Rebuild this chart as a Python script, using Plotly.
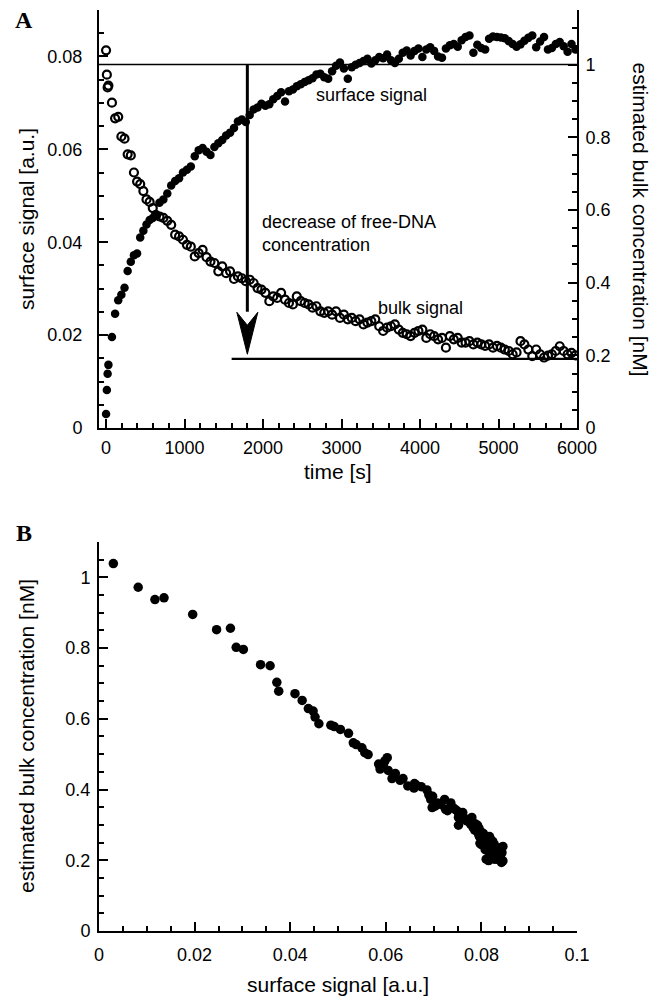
import plotly.graph_objects as go

# time [s] of each measurement
time_s = [0, 10, 20, 30, 75, 115, 155, 195, 235, 275, 315, 355, 395, 435, 475, 515, 555, 595, 635,
          680, 730, 780, 830, 880, 930, 980, 1030, 1080, 1130, 1180, 1230, 1280, 1330, 1380, 1430,
          1480, 1530, 1580, 1630, 1680, 1730, 1780, 1830, 1880, 1930, 1980, 2030, 2080, 2130, 2180,
          2230, 2280, 2330, 2380, 2430, 2480, 2530, 2580, 2630, 2680, 2730, 2780, 2830, 2880, 2930,
          2980, 3030, 3080, 3130, 3180, 3230, 3280, 3330, 3380, 3430, 3480, 3530, 3580, 3630, 3680,
          3730, 3780, 3830, 3880, 3930, 3980, 4030, 4080, 4130, 4180, 4230, 4280, 4330, 4380, 4430,
          4480, 4530, 4580, 4630, 4680, 4730, 4780, 4830, 4880, 4930, 4980, 5030, 5080, 5130, 5180,
          5230, 5280, 5330, 5380, 5430, 5480, 5530, 5580, 5630, 5680, 5730, 5780, 5830, 5880, 5930,
          5980]

# surface signal [a.u.] (filled circles, left axis)
surface_signal = [0.0030, 0.0082, 0.0117, 0.0136, 0.0196, 0.0246, 0.0275, 0.0287, 0.0302, 0.0338,
                  0.0358, 0.0372, 0.0376, 0.0410, 0.0425, 0.0438, 0.0448, 0.0452, 0.0460,
                  0.0485, 0.0492, 0.0505, 0.0522, 0.0532, 0.0538, 0.0550, 0.0556, 0.0563, 0.0585,
                  0.0598, 0.0603, 0.0595, 0.0588, 0.0605, 0.0613, 0.0620, 0.0630, 0.0636, 0.0646,
                  0.0660, 0.0664, 0.0659, 0.0674, 0.0686, 0.0690, 0.0698, 0.0694, 0.0697, 0.0708,
                  0.0715, 0.0723, 0.0703, 0.0725, 0.0729, 0.0736, 0.0740, 0.0745, 0.0749, 0.0753,
                  0.0761, 0.0763, 0.0755, 0.0752, 0.0768, 0.0780, 0.0787, 0.0774, 0.0752, 0.0777,
                  0.0782, 0.0786, 0.0790, 0.0795, 0.0785, 0.0792, 0.0799, 0.0796, 0.0804, 0.0792,
                  0.0786, 0.0795, 0.0808, 0.0813, 0.0802, 0.0812, 0.0817, 0.0799, 0.0815, 0.0820,
                  0.0812, 0.0800, 0.0797, 0.0817, 0.0824, 0.0827, 0.0821, 0.0835, 0.0842, 0.0845,
                  0.0808, 0.0825, 0.0818, 0.0815, 0.0838, 0.0843, 0.0842, 0.0841, 0.0839, 0.0833,
                  0.0827, 0.0821, 0.0826, 0.0834, 0.0840, 0.0845, 0.0820, 0.0832, 0.0842, 0.0815,
                  0.0818, 0.0827, 0.0831, 0.0822, 0.0810, 0.0827, 0.0815]

# estimated bulk concentration [nM] (open circles, right axis)
bulk_conc = [1.039, 0.972, 0.937, 0.942, 0.895, 0.852, 0.856, 0.802, 0.796, 0.753,
             0.750, 0.703, 0.678, 0.671, 0.652, 0.629, 0.622, 0.605, 0.586,
             0.582, 0.578, 0.570, 0.559, 0.532, 0.527, 0.518, 0.504, 0.499, 0.472,
             0.481, 0.490, 0.470, 0.458, 0.454, 0.431, 0.445, 0.426, 0.431, 0.410,
             0.417, 0.412, 0.404, 0.408, 0.399, 0.385, 0.381, 0.372, 0.349, 0.362,
             0.358, 0.372, 0.353, 0.344, 0.340, 0.362, 0.349, 0.344, 0.340, 0.331,
             0.335, 0.321, 0.317, 0.321, 0.312, 0.321, 0.303, 0.312, 0.299, 0.303,
             0.294, 0.299, 0.285, 0.290, 0.294, 0.299, 0.280, 0.267, 0.276, 0.280,
             0.285, 0.271, 0.262, 0.258, 0.253, 0.262, 0.267, 0.271, 0.248, 0.258,
             0.253, 0.244, 0.248, 0.221, 0.253, 0.244, 0.248, 0.235, 0.235, 0.239,
             0.230, 0.235, 0.230, 0.226, 0.230, 0.221, 0.226, 0.221, 0.216, 0.212,
             0.203, 0.208, 0.239, 0.230, 0.216, 0.198, 0.216, 0.203, 0.194, 0.199,
             0.203, 0.212, 0.225, 0.212, 0.203, 0.207, 0.200]

# guide lines of panel A
level_start = 1.0
level_end = 0.19
arrow_time = 1800
lower_line_from = 1600

FONT = "Liberation Sans, Arial, Helvetica, sans-serif"
tick_font = dict(family=FONT, size=18, color="black")


def main_axis(rng, dtick, minor, **kw):
    d = dict(range=rng, dtick=dtick, tick0=0, ticks="inside", ticklen=9, tickwidth=2,
             tickcolor="black", showline=True, linewidth=2, linecolor="black",
             showgrid=False, zeroline=False, tickfont=tick_font, automargin=False,
             minor=dict(dtick=minor, tick0=0, ticks="inside", ticklen=5, tickwidth=2,
                        tickcolor="black", showgrid=False))
    d.update(kw)
    return d


def outer_ticks(rng, dtick, **kw):
    # outside half of the crossing major ticks
    d = dict(range=rng, dtick=dtick, tick0=0, ticks="outside", ticklen=4, tickwidth=2,
             tickcolor="black", showline=False, showgrid=False, zeroline=False,
             showticklabels=False, automargin=False)
    d.update(kw)
    return d


fig = go.Figure()
fig.add_trace(go.Scatter(x=time_s, y=surface_signal, mode="markers", xaxis="x", yaxis="y",
                         marker=dict(color="black", size=8.5), showlegend=False))
fig.add_trace(go.Scatter(x=time_s, y=bulk_conc, mode="markers", xaxis="x", yaxis="y2",
                         marker=dict(symbol="circle-open", color="black", size=8,
                                     line=dict(width=2.2, color="black")), showlegend=False))
fig.add_trace(go.Scatter(x=surface_signal, y=bulk_conc, mode="markers", xaxis="x2", yaxis="y3",
                         marker=dict(color="black", size=9.5), showlegend=False))

dom_a = [0.5461, 1.0]
dom_b = [0.0, 0.4224]

fig.update_layout(
    width=661, height=999,
    margin=dict(l=99, r=84, t=10, b=68),
    paper_bgcolor="white", plot_bgcolor="white",
    font=dict(family=FONT, size=18, color="black"),
    xaxis=main_axis([-90, 6000], 1000, 200, domain=[0, 1], anchor="y", ticklabelstandoff=2),
    yaxis=main_axis([0, 0.09], 0.02, 0.005, domain=dom_a, anchor="x", ticklabelstandoff=11),
    yaxis2=main_axis([0, 1.15], 0.2, 0.05, overlaying="y", side="right", anchor="x",
                     ticklabelstandoff=3),
    xaxis2=main_axis([0, 0.1], 0.02, 0.005, domain=[0, 1], anchor="y3", ticklabelstandoff=6),
    yaxis3=main_axis([0, 1.1], 0.2, 0.05, domain=dom_b, anchor="x2", ticklabelstandoff=3),
    yaxis4=main_axis([0, 1.1], 0.2, 0.05, overlaying="y3", side="right", anchor="x2",
                     showticklabels=False),
    xaxis3=outer_ticks([-90, 6000], 1000, overlaying="x", anchor="y"),
    yaxis5=outer_ticks([0, 0.09], 0.02, overlaying="y", anchor="x"),
    yaxis6=outer_ticks([0, 1.15], 0.2, overlaying="y", side="right", anchor="x"),
    xaxis4=outer_ticks([0, 0.1], 0.02, overlaying="x2", anchor="y3"),
    yaxis7=outer_ticks([0, 1.1], 0.2, overlaying="y3", anchor="x2"),
    yaxis8=outer_ticks([0, 1.1], 0.2, overlaying="y3", side="right", anchor="x2"),
)

# guide lines and the arrow in panel A
fig.add_shape(type="line", xref="x domain", yref="y2", x0=0, x1=1, y0=level_start, y1=level_start,
              line=dict(color="black", width=1.6))
fig.add_shape(type="line", xref="x", yref="y2", x0=lower_line_from, x1=6000, y0=level_end,
              y1=level_end, line=dict(color="black", width=2.2))
fig.add_shape(type="line", xref="x", yref="y2", x0=arrow_time, x1=arrow_time, y0=level_start,
              y1=0.32, line=dict(color="black", width=3))
fig.add_shape(type="path", xref="x", yref="y2", xsizemode="pixel", ysizemode="pixel",
              xanchor=arrow_time, yanchor=level_end + 0.013,
              path="M 0,0 L -10.5,42 L 0,29 L 10.5,42 Z",
              fillcolor="black", line=dict(color="black", width=1))

title_font = dict(family=FONT, size=21, color="black")
ann_font = dict(family=FONT, size=18, color="black")

annotations = [
    dict(text="surface signal [a.u.]", x=-0.1527, y=0.773, textangle=-90, font=title_font),
    dict(text="estimated bulk concentration [nM]", x=1.1318, y=0.7725, textangle=90,
         font=title_font),
    dict(text="time [s]", x=0.5, y=0.4984, font=title_font),
    dict(text="estimated bulk concentration [nM]", x=-0.1527, y=0.2117, textangle=-90,
         font=title_font),
    dict(text="surface signal [a.u.]", x=0.5, y=-0.0586, font=title_font),
    dict(text="<b>A</b>", x=-0.157, y=0.989,
         font=dict(family="Liberation Serif, Times New Roman, serif", size=24, color="black")),
    dict(text="<b>B</b>", x=-0.157, y=0.4321,
         font=dict(family="Liberation Serif, Times New Roman, serif", size=24, color="black")),
]
for a in annotations:
    fig.add_annotation(xref="paper", yref="paper", showarrow=False, xanchor="center",
                       yanchor="middle", **a)

# labels inside panel A (data coordinates of the right axis)
labels_a = [
    ("surface signal", 2654, 0.915),
    ("decrease of free-DNA<br>concentration", 1962, 0.535),
    ("bulk signal", 3436, 0.329),
]
for txt, tx, ty in labels_a:
    fig.add_annotation(xref="x", yref="y2", x=tx, y=ty, text=txt, showarrow=False,
                       xanchor="left", yanchor="middle", align="left", font=ann_font)

# the page body has a default 8px margin; remove it so the figure sits at the corner
fig.write_html("out.html", config={"displayModeBar": False},
               post_script="document.body.style.margin='0';")
